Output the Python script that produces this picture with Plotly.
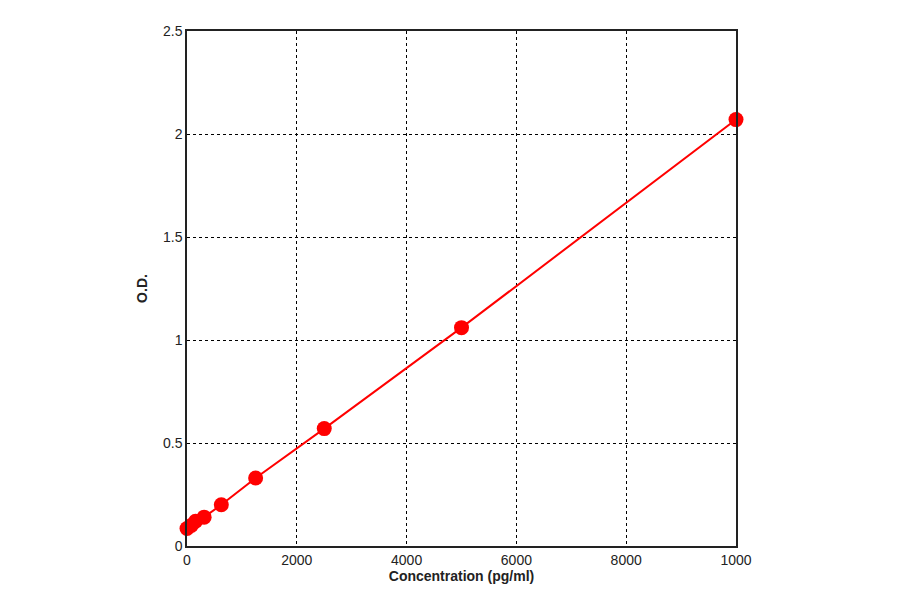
import plotly.graph_objects as go

# Standard curve readings
conc = [0, 78, 156, 312, 625, 1250, 2500, 5000, 10000]
od = [0.085, 0.10, 0.12, 0.14, 0.20, 0.33, 0.57, 1.06, 2.07]

x_ticks = [0, 2000, 4000, 6000, 8000, 10000]
x_labels = ["0", "2000", "4000", "6000", "8000", "1000"]
y_ticks = [0, 0.5, 1, 1.5, 2, 2.5]
y_labels = ["0", "0.5", "1", "1.5", "2", "2.5"]

fig = go.Figure(go.Scatter(
    x=conc, y=od, mode="lines+markers",
    line=dict(color="#ff0000", width=2),
    marker=dict(color="#ff0000", size=15, symbol="circle"),
    cliponaxis=False,
))

axis_common = dict(
    showline=True, linecolor="#222", linewidth=1.5, mirror=True,
    showgrid=True, gridcolor="#000", griddash="3px,3px", gridwidth=1,
    zeroline=False, ticks="", tickfont=dict(family="Liberation Sans, Arial", size=14, color="#222"),
)
fig.update_xaxes(range=[0, 10000], tickvals=x_ticks, ticktext=x_labels,
                 title=dict(text="<b>Concentration (pg/ml)</b>", font=dict(size=14, color="#222"), standoff=4),
                 **axis_common)
fig.update_yaxes(range=[0, 2.5], tickvals=y_ticks, ticktext=y_labels,
                 title=dict(text="<b>O.D.</b>", font=dict(size=14, color="#222"), standoff=12),
                 **axis_common)
fig.update_layout(
    width=900, height=594, showlegend=False,
    margin=dict(l=179, r=172, t=23, b=56),
    plot_bgcolor="white", paper_bgcolor="white",
    font=dict(family="Liberation Sans, Arial"),
)
fig.write_html("out.html")
